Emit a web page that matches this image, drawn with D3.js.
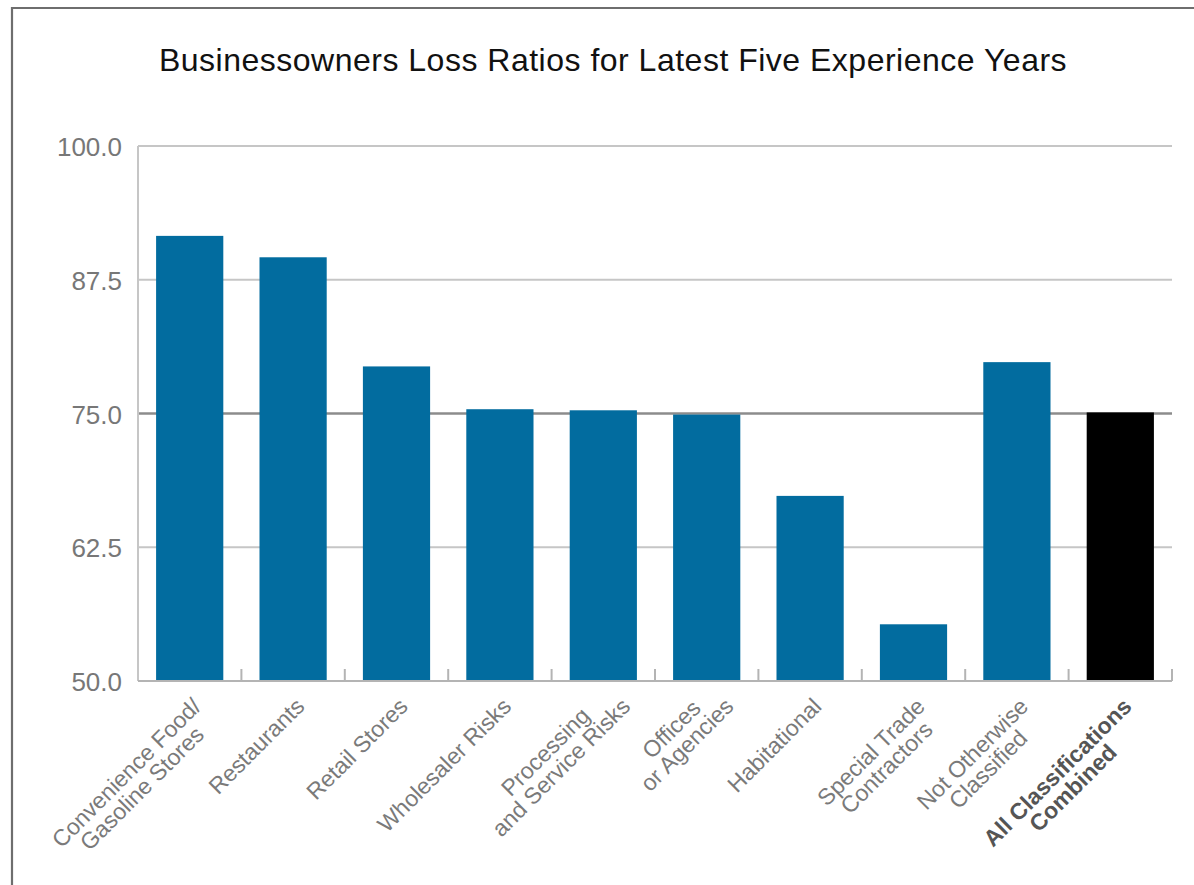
<!DOCTYPE html>
<html>
<head>
<meta charset="utf-8">
<script src="https://cdn.jsdelivr.net/npm/d3@7"></script>
<style>
  html, body { margin: 0; padding: 0; background: #fff; }
  svg { display: block; font-family: "Liberation Sans", Arial, Helvetica, sans-serif; }
</style>
</head>
<body>
<svg id="chart" width="1194" height="885"></svg>
<script>
// Businessowners loss ratios by classification
const categories = [
  "Convenience Food/\nGasoline Stores",
  "Restaurants",
  "Retail Stores",
  "Wholesaler Risks",
  "Processing\nand Service Risks",
  "Offices\nor Agencies",
  "Habitational",
  "Special Trade\nContractors",
  "Not Otherwise\nClassified",
  "All Classifications\nCombined"
];
const lossRatios = [91.6, 89.6, 79.4, 75.4, 75.3, 74.9, 67.3, 55.3, 79.8, 75.1];
const totalCategory = "All Classifications\nCombined";
const yTicks = [50, 62.5, 75, 87.5, 100];
const titleText = "Businessowners Loss Ratios for Latest Five Experience Years";

const svg = d3.select("#chart");
const W = 1194, H = 885;
const plot = { left: 138, right: 1172, top: 146, bottom: 681 };

// outer frame (open on the right and bottom edges of the page)
svg.append("path")
  .attr("d", `M12,${H + 5} L12,8 L${W + 5},8`)
  .attr("fill", "none").attr("stroke", "#6e6e6e").attr("stroke-width", 2.2);

svg.append("text")
  .attr("x", 613).attr("y", 71)
  .attr("text-anchor", "middle")
  .attr("font-size", 32)
  .attr("letter-spacing", 0.5)
  .attr("fill", "#111")
  .text(titleText);

const x = d3.scaleBand()
  .domain(categories)
  .range([plot.left, plot.right])
  .paddingInner(0.35)
  .paddingOuter(0.175);

const y = d3.scaleLinear().domain([50, 100]).range([plot.bottom, plot.top]);

// horizontal grid lines
svg.append("g").selectAll("line")
  .data(yTicks.filter(t => t !== 50))
  .join("line")
  .attr("x1", plot.left).attr("x2", plot.right)
  .attr("y1", d => y(d)).attr("y2", d => y(d))
  .attr("stroke", d => d === 75 ? "#8c8c8c" : "#c6c6c6")
  .attr("stroke-width", d => d === 75 ? 2.6 : 2);

// left axis line
svg.append("line")
  .attr("x1", plot.left).attr("x2", plot.left)
  .attr("y1", y(100)).attr("y2", y(50))
  .attr("stroke", "#c6c6c6").attr("stroke-width", 2);

// y tick labels
svg.append("g").selectAll("text")
  .data(yTicks)
  .join("text")
  .attr("x", 122).attr("y", d => y(d) + 10)
  .attr("text-anchor", "end")
  .attr("font-size", 26)
  .attr("fill", "#777")
  .text(d => d.toFixed(1));

// bars
svg.append("g").selectAll("rect")
  .data(categories.map((c, i) => ({ c, v: lossRatios[i] })))
  .join("rect")
  .attr("x", d => x(d.c))
  .attr("width", x.bandwidth())
  .attr("y", d => y(d.v))
  .attr("height", d => y(50) - y(d.v))
  .attr("fill", d => d.c === totalCategory ? "#000" : "#026c9f");

// baseline
svg.append("line")
  .attr("x1", plot.left).attr("x2", plot.right)
  .attr("y1", y(50)).attr("y2", y(50))
  .attr("stroke", "#b4b4b4").attr("stroke-width", 2);

// tick marks between categories
const gap = (x.step() - x.bandwidth()) / 2;
svg.append("g").selectAll("line")
  .data(categories)
  .join("line")
  .attr("x1", d => x(d) + x.bandwidth() + gap)
  .attr("x2", d => x(d) + x.bandwidth() + gap)
  .attr("y1", y(50)).attr("y2", y(50) - 12)
  .attr("stroke", "#b4b4b4").attr("stroke-width", 2);

// rotated category labels: lines centred on each other, the widest line
// ends just right of the bar centre, and the block is lifted so that the
// widest line's end always sits at the same height under the axis
const lh = 22;
const uEnd = -10, v0 = 28;
const labels = svg.append("g").selectAll("g")
  .data(categories)
  .join("g");

labels.each(function (d) {
  const g = d3.select(this);
  const lines = d.split("\n");
  const bold = d === totalCategory;
  const inner = g.append("g").attr("transform", "rotate(-45)");
  const texts = lines.map(l => inner.append("text")
    .attr("font-size", 23)
    .attr("font-weight", bold ? "bold" : "normal")
    .attr("fill", bold ? "#555" : "#7a7a7a")
    .attr("text-anchor", "middle")
    .text(l));
  const widths = texts.map(t => t.node().getComputedTextLength());
  const maxW = d3.max(widths);
  const widest = widths.indexOf(maxW);
  texts.forEach((t, i) => t.attr("x", uEnd - maxW / 2).attr("y", v0 + i * lh));
  const lift = widest * lh * Math.SQRT1_2;
  g.attr("transform", `translate(${x(d) + x.bandwidth() / 2},${y(50) - lift})`);
});
</script>
</body>
</html>
